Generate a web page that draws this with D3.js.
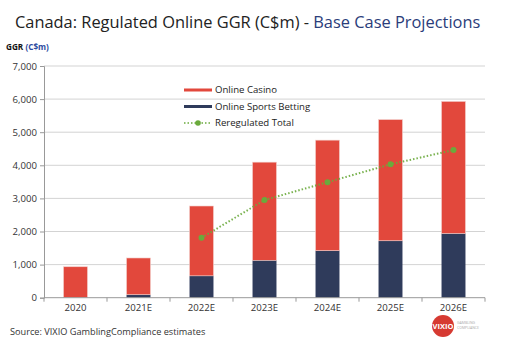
<!DOCTYPE html>
<html><head><meta charset="utf-8">
<script src="https://cdn.jsdelivr.net/npm/d3@7"></script>
<style>body{margin:0;background:#fff}svg{display:block}</style>
</head><body>
<script>
const categories = ["2020","2021E","2022E","2023E","2024E","2025E","2026E"];
const sportsBetting = [0, 90, 660, 1130, 1420, 1720, 1940];
const onlineCasino = [935, 1110, 2110, 2965, 3340, 3660, 3990];
const reregulatedCats = ["2022E","2023E","2024E","2025E","2026E"];
const reregulatedTotal = [1810, 2950, 3490, 4030, 4460];
const yTicks = [0,1000,2000,3000,4000,5000,6000,7000];

const W=512,H=360;
const svg=d3.select("body").append("svg").attr("width",W).attr("height",H);
const font="'Open Sans', Lato, sans-serif";
const red="#e2483c", navy="#2f3b5b", green="#6aaa3c";

const x=d3.scaleBand().domain(categories).range([44,485]).paddingInner(0.62).paddingOuter(0.31);
const y=d3.scaleLinear().domain([0,7000]).range([297.7,66]);

// title
const t=svg.append("text").attr("x",15).attr("y",28).attr("font-family",font).attr("font-size",16.4).attr("fill","#222");
t.append("tspan").text("Canada: Regulated Online GGR (C$m) - ");
t.append("tspan").attr("fill","#2b3d7a").text("Base Case Projections");

const yl=svg.append("text").attr("x",6).attr("y",50).attr("font-family",font).attr("font-size",8.2).attr("font-weight","bold").attr("fill","#111");
yl.append("tspan").text("GGR ");
yl.append("tspan").attr("fill","#2b4aa0").text("(C$m)");

// gridlines
svg.append("g").selectAll("line").data(yTicks.slice(1)).join("line")
 .attr("x1",44).attr("x2",485).attr("y1",d=>y(d)).attr("y2",d=>y(d))
 .attr("stroke","#c8c8c8").attr("stroke-width",0.8);

// y axis
const ya=svg.append("g").attr("transform","translate(44,0)")
 .call(d3.axisLeft(y).tickValues(yTicks).tickFormat(d3.format(",")).tickSize(4).tickPadding(3));
ya.select(".domain").attr("stroke","#999");
ya.selectAll(".tick line").attr("stroke","#999");
ya.selectAll("text").attr("font-family",font).attr("font-size",9.6).attr("fill","#333");

// bars
const g=svg.append("g");
categories.forEach((c,i)=>{
  if(sportsBetting[i]>0) g.append("rect").attr("x",x(c)).attr("width",x.bandwidth())
    .attr("y",y(sportsBetting[i])).attr("height",y(0)-y(sportsBetting[i])).attr("fill",navy);
  g.append("rect").attr("x",x(c)).attr("width",x.bandwidth())
    .attr("y",y(sportsBetting[i]+onlineCasino[i])).attr("height",y(sportsBetting[i])-y(sportsBetting[i]+onlineCasino[i]))
    .attr("fill",red).attr("stroke","#f2d0cc").attr("stroke-width",0.6);
});

// x axis
const xa=svg.append("g").attr("transform","translate(0,297.7)");
xa.append("line").attr("x1",44).attr("x2",485).attr("stroke","#999");
xa.selectAll(".tk").data(d3.range(categories.length+1)).join("line")
 .attr("x1",i=>44+x.step()*i).attr("x2",i=>44+x.step()*i).attr("y1",0).attr("y2",4).attr("stroke","#999");
xa.selectAll("text").data(categories).join("text").attr("x",d=>x(d)+x.bandwidth()/2).attr("y",13.5)
 .attr("text-anchor","middle").attr("font-family",font).attr("font-size",9.6).attr("fill","#333").text(d=>d);

// line
const line=d3.line().x((d,i)=>x(reregulatedCats[i])+x.bandwidth()/2).y(d=>y(d));
svg.append("path").datum(reregulatedTotal).attr("d",line).attr("fill","none")
 .attr("stroke",green).attr("stroke-width",2).attr("stroke-dasharray","1.5,2").attr("opacity",0.9);
svg.selectAll(".pt").data(reregulatedTotal).join("circle")
 .attr("cx",(d,i)=>x(reregulatedCats[i])+x.bandwidth()/2).attr("cy",d=>y(d)).attr("r",3).attr("fill",green);

// legend
const lg=svg.append("g").attr("font-family",font).attr("font-size",9.6).attr("fill","#222");
const items=[["Online Casino",red,"rect"],["Online Sports Betting",navy,"rect"],["Reregulated Total",green,"line"]];
items.forEach((it,i)=>{
  const yy=90+i*16.5;
  if(it[2]==="rect") lg.append("rect").attr("x",184).attr("y",yy-1.5).attr("width",28).attr("height",3).attr("fill",it[1]);
  else {
    lg.append("line").attr("x1",184).attr("x2",212).attr("y1",yy).attr("y2",yy).attr("stroke",it[1]).attr("stroke-width",1.6).attr("stroke-dasharray","1.5,2");
    lg.append("circle").attr("cx",198).attr("cy",yy).attr("r",2.8).attr("fill",it[1]);
  }
  lg.append("text").attr("x",215).attr("y",yy+3.4).text(it[0]);
});

// source
svg.append("text").attr("x",10).attr("y",335).attr("font-family",font).attr("font-size",9.2).attr("fill","#333")
 .text("Source: VIXIO GamblingCompliance estimates");

// logo
svg.append("circle").attr("cx",443).attr("cy",326).attr("r",11).attr("fill","#d63a32");
svg.append("text").attr("x",443).attr("y",329).attr("text-anchor","middle").attr("font-family",font).attr("font-size",7.5)
 .attr("font-weight","bold").attr("fill","#fff").text("VIXIO");
svg.append("text").attr("x",457).attr("y",324).attr("font-family",font).attr("font-size",3.5).attr("fill","#aaa").text("GAMBLING");
svg.append("text").attr("x",457).attr("y",329).attr("font-family",font).attr("font-size",3.5).attr("fill","#aaa").text("COMPLIANCE");
</script>
</body></html>
